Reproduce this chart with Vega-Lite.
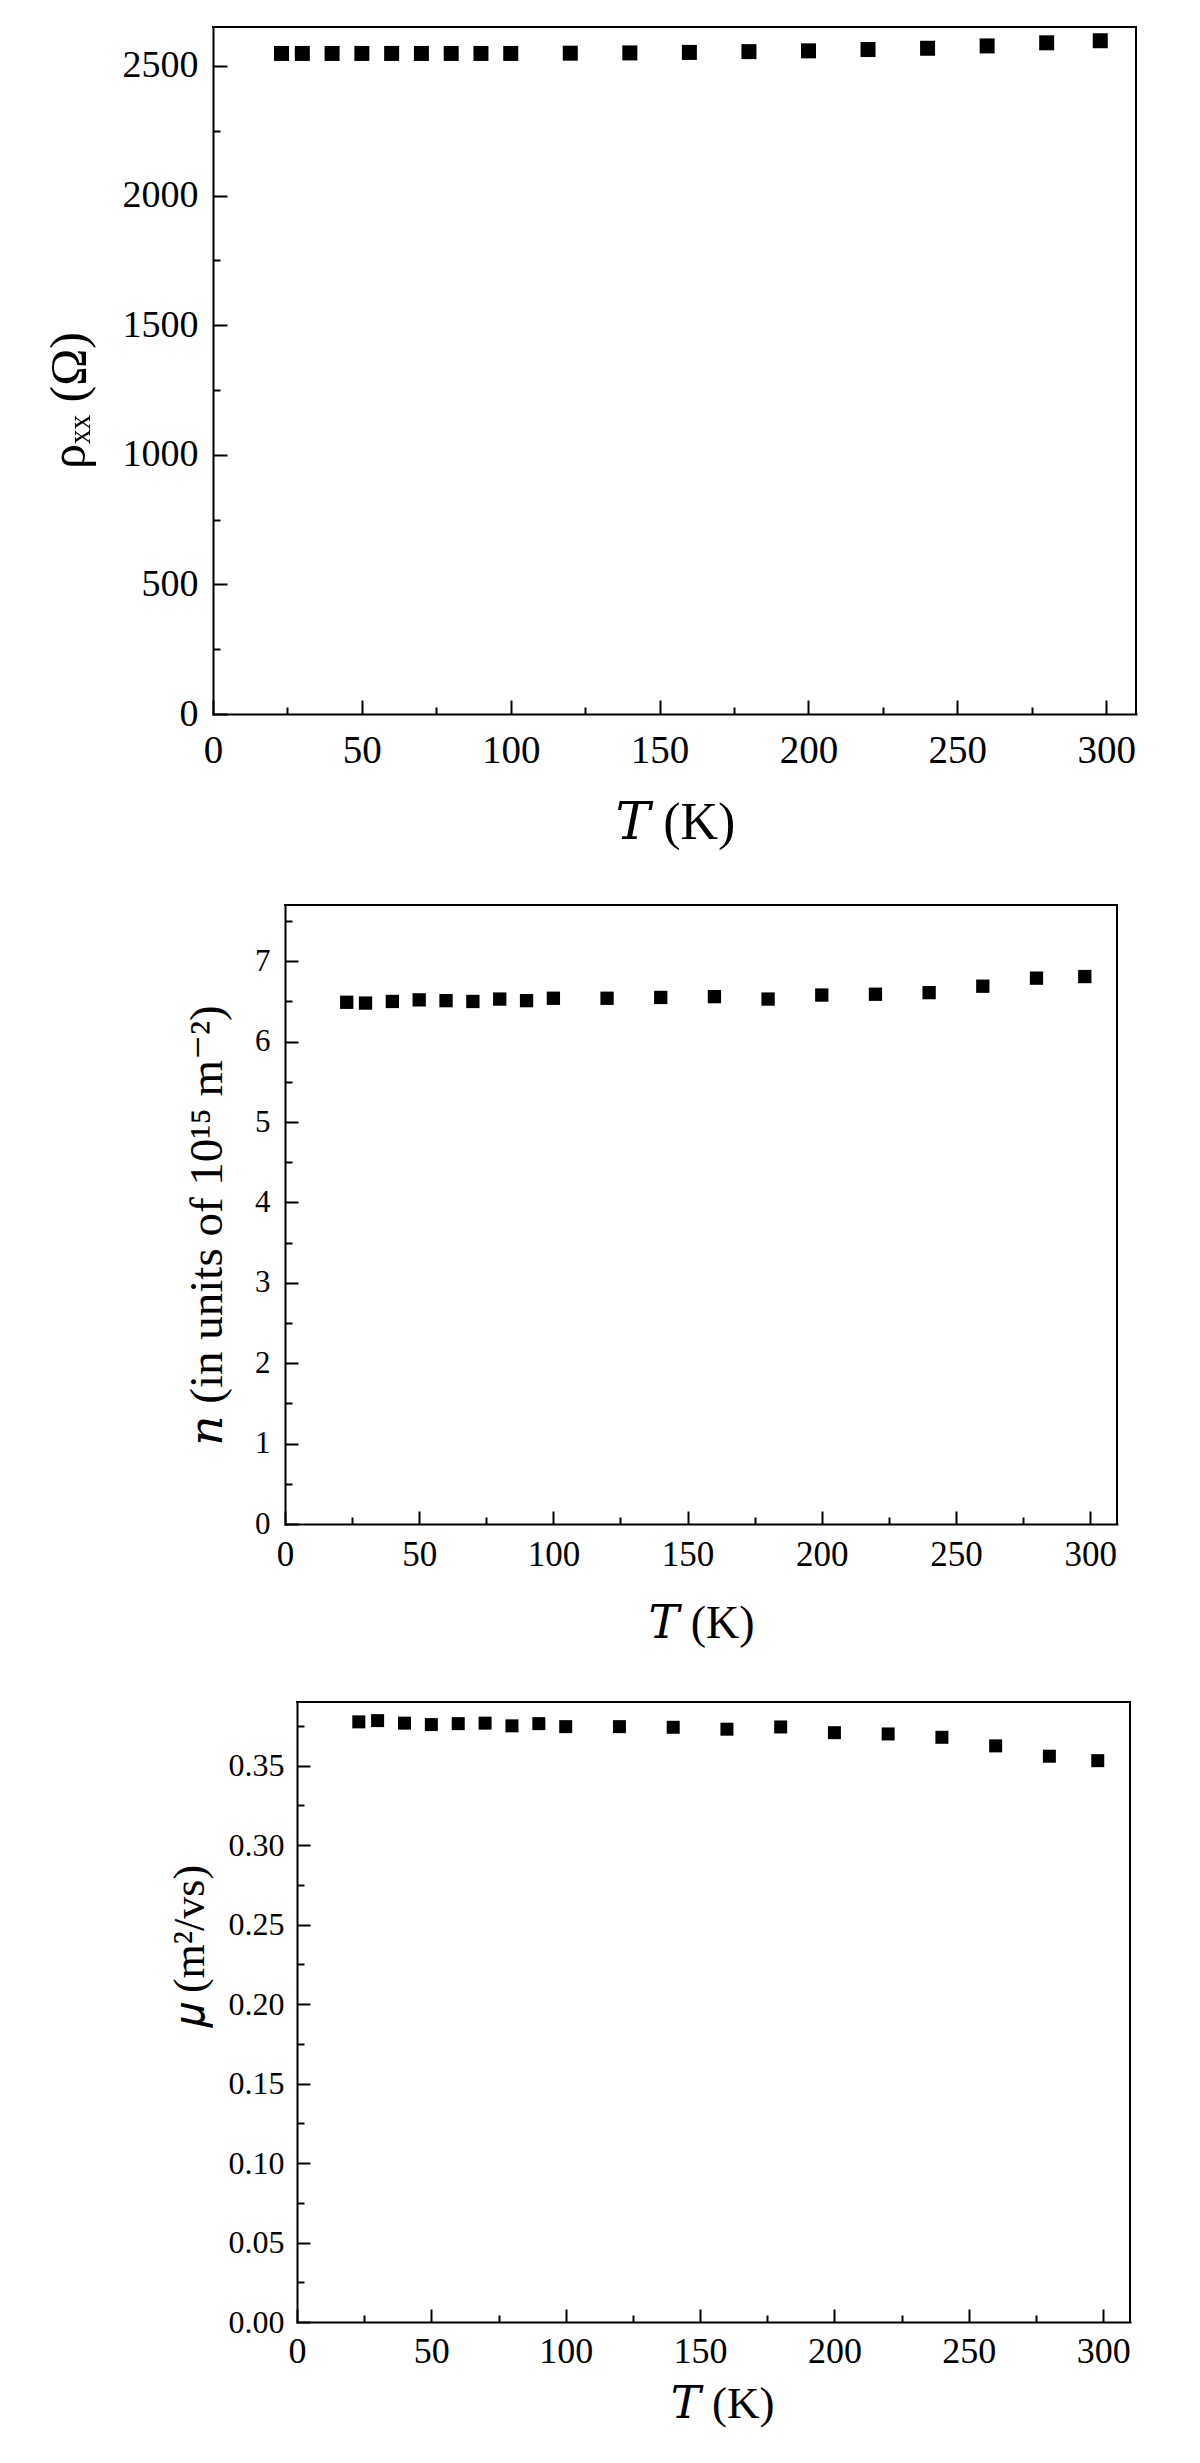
{
  "$schema": "https://vega.github.io/schema/vega-lite/v6.json",
  "padding": 0,
  "spacing": 0,
  "background": "white",
  "datasets": {
    "d": [
      {"T": 23, "rho": 2548, "n": 6.49, "mu": 0.3775},
      {"T": 30, "rho": 2548, "n": 6.48, "mu": 0.3783},
      {"T": 40, "rho": 2548, "n": 6.50, "mu": 0.3767},
      {"T": 50, "rho": 2548, "n": 6.52, "mu": 0.3758},
      {"T": 60, "rho": 2548, "n": 6.51, "mu": 0.3764},
      {"T": 70, "rho": 2548, "n": 6.50, "mu": 0.3767},
      {"T": 80, "rho": 2548, "n": 6.53, "mu": 0.3750},
      {"T": 90, "rho": 2548, "n": 6.51, "mu": 0.3764},
      {"T": 100, "rho": 2548, "n": 6.54, "mu": 0.3745},
      {"T": 120, "rho": 2549, "n": 6.54, "mu": 0.3745},
      {"T": 140, "rho": 2550, "n": 6.55, "mu": 0.3741},
      {"T": 160, "rho": 2552, "n": 6.56, "mu": 0.3729},
      {"T": 180, "rho": 2555, "n": 6.53, "mu": 0.3743},
      {"T": 200, "rho": 2558, "n": 6.58, "mu": 0.3707},
      {"T": 220, "rho": 2563, "n": 6.59, "mu": 0.3699},
      {"T": 240, "rho": 2568, "n": 6.61, "mu": 0.3678},
      {"T": 260, "rho": 2577, "n": 6.69, "mu": 0.3624},
      {"T": 280, "rho": 2589, "n": 6.79, "mu": 0.3559},
      {"T": 298, "rho": 2597, "n": 6.81, "mu": 0.3531}
    ]
  },
  "config": {
    "view": {"stroke": null},
    "font": "Liberation Serif, Times New Roman, serif",
    "axis": {
      "domainColor": "black", "domainWidth": 2, "domainCap": "square",
      "tickColor": "black", "tickWidth": 2,
      "labelColor": "black", "titleColor": "black",
      "labelFont": "Liberation Serif, Times New Roman, serif", "titleFont": "Liberation Serif, DejaVu Serif, serif",
      "titleFontWeight": "normal", "grid": false,
      "labelFlush": false, "labelOverlap": false
    }
  },
  "vconcat": [
    {
      "width": 1150, "height": 880,
      "data": {"name": "d"},
      "layer": [
        {"mark": {"type": "point", "shape": "square", "filled": true, "color": "black", "size": 225, "opacity": 1},
         "encoding": {
           "x": {"field": "T", "type": "quantitative",
                 "scale": {"domain": [0, 310], "range": [213, 1136], "nice": false, "zero": false},
                 "axis": {"offset": -166, "values": [0,25,50,75,100,125,150,175,200,225,250,275,300],
                          "format": "d", "labelFont": "Liberation Serif, Times New Roman, serif",
                          "tickSize": {"expr": "datum.value % 50 === 0 ? -14 : -7"},
                          "labelExpr": "datum.value % 50 === 0 ? datum.label : ''",
                          "labelFontSize": 39, "labelPadding": 31,
                          "title": "𝑇 (K)", "titleFont": "Liberation Serif, DejaVu Serif, serif", "titleFontSize": 52, "titleX": 675, "titleY": 124,
                          "titleBaseline": "alphabetic", "titleAlign": "center"}},
           "y": {"field": "rho", "type": "quantitative",
                 "scale": {"domain": [0, 2650], "range": [714, 27], "nice": false, "zero": false},
                 "axis": {"offset": -213, "values": [0,250,500,750,1000,1250,1500,1750,2000,2250,2500],
                          "format": "d", "labelFont": "Liberation Serif, Times New Roman, serif",
                          "tickSize": {"expr": "datum.value % 500 === 0 ? -14 : -7"},
                          "labelExpr": "datum.value % 500 === 0 ? datum.label : ''",
                          "labelFontSize": 38, "labelPadding": 29,
                          "title": "ρₓₓ (Ω)", "titleFont": "Liberation Serif, DejaVu Serif, serif", "titleFontSize": 50, "titleAngle": 270,
                          "titleX": -129, "titleY": 400,
                          "titleBaseline": "alphabetic", "titleAlign": "center"}}
         }},
        {"mark": {"type": "rule", "color": "black", "strokeWidth": 2, "strokeCap": "square"},
         "encoding": {"x": {"datum": 0}, "x2": {"datum": 310}, "y": {"datum": 2650}}},
        {"mark": {"type": "rule", "color": "black", "strokeWidth": 2, "strokeCap": "square"},
         "encoding": {"x": {"datum": 310}, "y": {"datum": 0}, "y2": {"datum": 2650}}}
      ]
    },
    {
      "width": 1150, "height": 790,
      "data": {"name": "d"},
      "layer": [
        {"mark": {"type": "point", "shape": "square", "filled": true, "color": "black", "size": 177, "opacity": 1},
         "encoding": {
           "x": {"field": "T", "type": "quantitative",
                 "scale": {"domain": [0, 310], "range": [285, 1117], "nice": false, "zero": false},
                 "axis": {"offset": -146, "values": [0,25,50,75,100,125,150,175,200,225,250,275,300],
                          "format": "d", "labelFont": "Liberation Serif, Times New Roman, serif",
                          "tickSize": {"expr": "datum.value % 50 === 0 ? -13 : -7"},
                          "labelExpr": "datum.value % 50 === 0 ? datum.label : ''",
                          "labelFontSize": 35, "labelPadding": 26,
                          "title": "𝑇 (K)", "titleFont": "Liberation Serif, DejaVu Serif, serif", "titleFontSize": 46, "titleX": 701, "titleY": 113,
                          "titleBaseline": "alphabetic", "titleAlign": "center"}},
           "y": {"field": "n", "type": "quantitative",
                 "scale": {"domain": [0, 7.7], "range": [644, 25], "nice": false, "zero": false},
                 "axis": {"offset": -285, "values": [0,0.5,1,1.5,2,2.5,3,3.5,4,4.5,5,5.5,6,6.5,7,7.5],
                          "format": "~g", "labelFont": "Liberation Serif, Times New Roman, serif",
                          "tickSize": {"expr": "datum.value % 1 === 0 ? -13 : -7"},
                          "labelExpr": "datum.value % 1 === 0 ? datum.label : ''",
                          "labelFontSize": 31, "labelPadding": 28,
                          "title": "𝑛 (in units of 10¹⁵ m⁻²)", "titleFont": "Liberation Serif, DejaVu Serif, serif", "titleFontSize": 47, "titleAngle": 270,
                          "titleX": -64, "titleY": 345,
                          "titleBaseline": "alphabetic", "titleAlign": "center"}}
         }},
        {"mark": {"type": "rule", "color": "black", "strokeWidth": 2, "strokeCap": "square"},
         "encoding": {"x": {"datum": 0}, "x2": {"datum": 310}, "y": {"datum": 7.7}}},
        {"mark": {"type": "rule", "color": "black", "strokeWidth": 2, "strokeCap": "square"},
         "encoding": {"x": {"datum": 310}, "y": {"datum": 0}, "y2": {"datum": 7.7}}}
      ]
    },
    {
      "width": 1150, "height": 793,
      "data": {"name": "d"},
      "layer": [
        {"mark": {"type": "point", "shape": "square", "filled": true, "color": "black", "size": 169, "opacity": 1},
         "encoding": {
           "x": {"field": "T", "type": "quantitative",
                 "scale": {"domain": [0, 310], "range": [297, 1130], "nice": false, "zero": false},
                 "axis": {"offset": -141, "values": [0,25,50,75,100,125,150,175,200,225,250,275,300],
                          "format": "d", "labelFont": "Liberation Serif, Times New Roman, serif",
                          "tickSize": {"expr": "datum.value % 50 === 0 ? -13 : -7"},
                          "labelExpr": "datum.value % 50 === 0 ? datum.label : ''",
                          "labelFontSize": 36, "labelPadding": 25,
                          "title": "𝑇 (K)", "titleFont": "Liberation Serif, DejaVu Serif, serif", "titleFontSize": 45, "titleX": 722, "titleY": 95,
                          "titleBaseline": "alphabetic", "titleAlign": "center"}},
           "y": {"field": "mu", "type": "quantitative",
                 "scale": {"domain": [0, 0.39], "range": [652, 32], "nice": false, "zero": false},
                 "axis": {"offset": -297, "format": ".2f", "labelFont": "Liberation Serif, Times New Roman, serif",
                          "values": [0,0.025,0.05,0.075,0.1,0.125,0.15,0.175,0.2,0.225,0.25,0.275,0.3,0.325,0.35,0.375],
                          "tickSize": {"expr": "abs(datum.value*20 - round(datum.value*20)) < 1e-6 ? -13 : -7"},
                          "labelExpr": "abs(datum.value*20 - round(datum.value*20)) < 1e-6 ? datum.label : ''",
                          "labelFontSize": 32, "labelPadding": 26,
                          "title": "𝜇 (m²/vs)", "titleFont": "Liberation Serif, DejaVu Serif, serif", "titleFontSize": 44, "titleAngle": 270,
                          "titleX": -94, "titleY": 276,
                          "titleBaseline": "alphabetic", "titleAlign": "center"}}
         }},
        {"mark": {"type": "rule", "color": "black", "strokeWidth": 2, "strokeCap": "square"},
         "encoding": {"x": {"datum": 0}, "x2": {"datum": 310}, "y": {"datum": 0.39}}},
        {"mark": {"type": "rule", "color": "black", "strokeWidth": 2, "strokeCap": "square"},
         "encoding": {"x": {"datum": 310}, "y": {"datum": 0}, "y2": {"datum": 0.39}}}
      ]
    }
  ]
}
